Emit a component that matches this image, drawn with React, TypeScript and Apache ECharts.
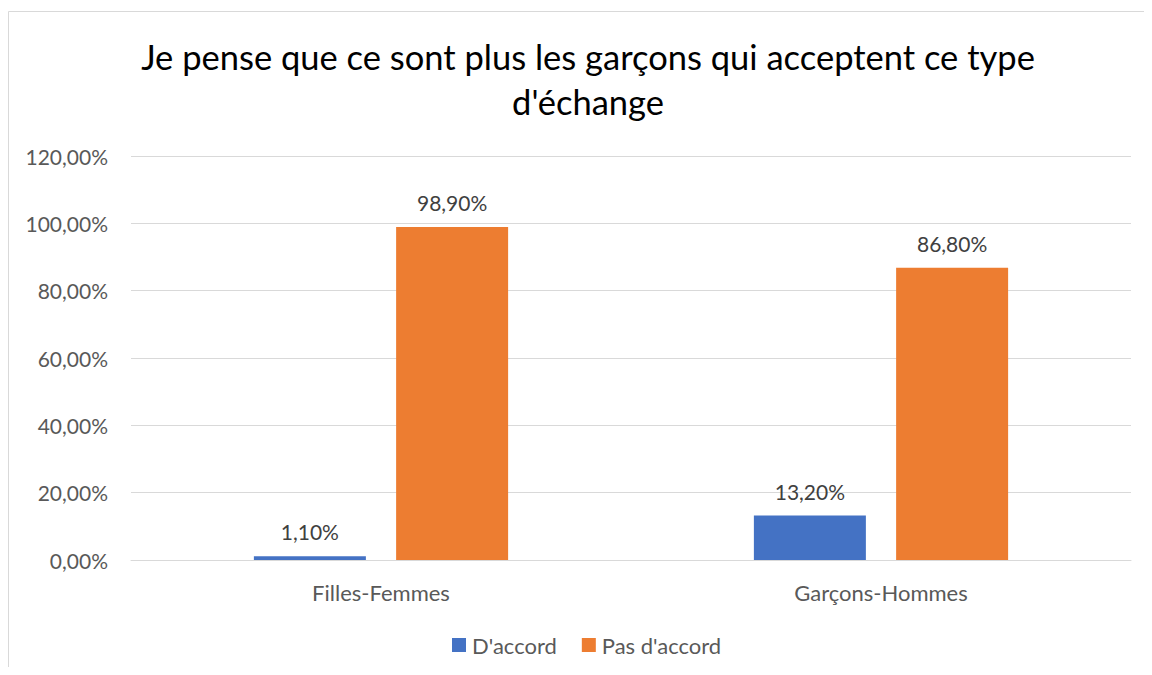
import React, { useEffect, useRef } from "react";
import * as echarts from "echarts";

const categories = ["Filles-Femmes", "Garçons-Hommes"];
const seriesNames = ["D'accord", "Pas d'accord"];
const accordValues = [1.1, 13.2];
const pasAccordValues = [98.9, 86.8];
const titleText = "Je pense que ce sont plus les garçons qui acceptent ce type\nd'échange";

const FONT = "Lato, 'Noto Sans', sans-serif";

const fmt = (v: number) => v.toFixed(2).replace(".", ",") + "%";

export default function App() {
  const ref = useRef<HTMLDivElement>(null);
  useEffect(() => {
    if (!ref.current) return;
    const chart = echarts.init(ref.current, undefined, { renderer: "svg" });
    const labelCfg = {
      show: true,
      position: "top" as const,
      distance: 14,
      color: "#404040",
      fontSize: 21,
      fontFamily: FONT,
      formatter: (p: any) => fmt(p.value),
    };
    chart.setOption({
      animation: false,
      backgroundColor: "#ffffff",
      textStyle: { fontFamily: FONT },
      title: {
        text: titleText,
        left: 575,
        textAlign: "center",
        top: 21,
        textStyle: {
          fontFamily: FONT,
          fontSize: 34.5,
          fontWeight: "normal",
          color: "#000000",
          lineHeight: 45,
        },
      },
      graphic: [
        {
          type: "line",
          shape: { x1: 0.5, y1: 3.5, x2: 1136, y2: 3.5 },
          style: { stroke: "#d9d9d9", lineWidth: 1 },
        },
        {
          type: "line",
          shape: { x1: 0.5, y1: 3.5, x2: 0.5, y2: 659 },
          style: { stroke: "#d9d9d9", lineWidth: 1 },
        },
      ],
      legend: {
        data: seriesNames,
        left: 439,
        top: 621,
        itemWidth: 14,
        itemHeight: 14,
        itemGap: 25,
        icon: "rect",
        textStyle: { fontFamily: FONT, fontSize: 22, color: "#595959", padding: [0, 0, 0, 1] },
      },
      grid: { left: 123, right: 13, top: 148, bottom: 107, containLabel: false },
      xAxis: {
        type: "category",
        data: categories,
        axisLine: { show: true, lineStyle: { color: "#d9d9d9", width: 1 } },
        axisTick: { show: false },
        axisLabel: { color: "#595959", fontSize: 22, fontFamily: FONT, margin: 21 },
      },
      yAxis: {
        type: "value",
        min: 0,
        max: 120,
        interval: 20,
        axisLine: { show: false },
        axisTick: { show: false },
        splitLine: { lineStyle: { color: "#d9d9d9", width: 1 } },
        axisLabel: {
          color: "#595959",
          fontSize: 21,
          fontFamily: FONT,
          margin: 23,
          formatter: (v: number) => fmt(v),
        },
      },
      series: [
        {
          name: seriesNames[0],
          type: "bar",
          data: accordValues,
          barWidth: 112,
          barGap: "27%",
          itemStyle: { color: "#4472C4" },
          label: labelCfg,
        },
        {
          name: seriesNames[1],
          type: "bar",
          data: pasAccordValues,
          barWidth: 112,
          barGap: "27%",
          itemStyle: { color: "#ED7D31" },
          label: labelCfg,
        },
      ],
    });
    return () => chart.dispose();
  }, []);
  return <div ref={ref} style={{ width: 1136, height: 659 }} />;
}
